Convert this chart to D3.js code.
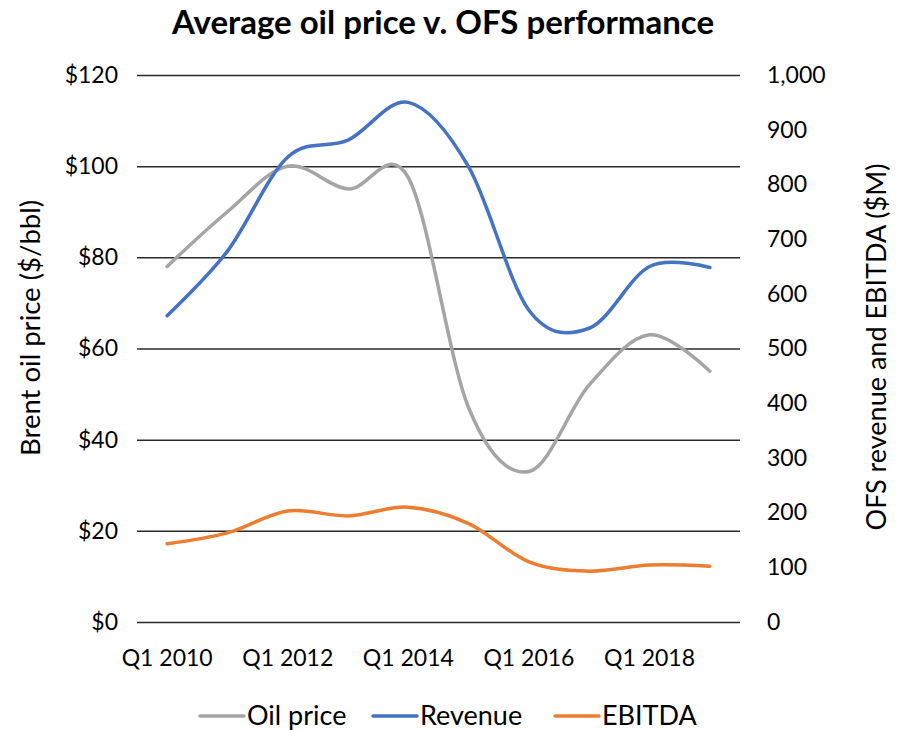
<!DOCTYPE html>
<html>
<head>
<meta charset="utf-8">
<script src="https://cdn.jsdelivr.net/npm/d3@7"></script>
<style>
  body { margin: 0; background: #fff; }
  text { font-family: Lato, "Open Sans", sans-serif; fill: #000; }
</style>
</head>
<body>
<div id="chart"></div>
<script>
let totalWidth = 897, totalHeight = 730;
let margin = { top: 75, right: 157, bottom: 108, left: 137 };

// data
const periods = ["Q1 2010", "Q1 2011", "Q1 2012", "Q1 2013", "Q1 2014", "Q1 2015", "Q1 2016", "Q1 2017", "Q1 2018", "Q1 2019"];
const xTickLabels = ["Q1 2010", "Q1 2012", "Q1 2014", "Q1 2016", "Q1 2018"];
const oilPrice = [78, 90, 100, 95, 97.5, 47, 33, 52, 63, 55];
const revenue = [560, 678, 850, 881, 950, 832, 570, 537, 650, 648];
const ebitda = [143, 163, 203, 194, 210, 180, 110, 93, 104, 102];
const leftTicks = [0, 20, 40, 60, 80, 100, 120];
const rightTicks = [0, 100, 200, 300, 400, 500, 600, 700, 800, 900, 1000];

const series = [
  { name: "Oil price", values: oilPrice, axis: "left", color: "#A5A5A5" },
  { name: "Revenue", values: revenue, axis: "right", color: "#4472C4" },
  { name: "EBITDA", values: ebitda, axis: "right", color: "#ED7D31" }
];

const svg = d3.select("#chart")
  .append("svg")
  .attr("width", totalWidth)
  .attr("height", totalHeight);

const x = d3.scaleBand()
  .domain(periods)
  .range([margin.left, totalWidth - margin.right]);

const yLeft = d3.scaleLinear()
  .domain([0, 120])
  .range([totalHeight - margin.bottom, margin.top]);

const yRight = d3.scaleLinear()
  .domain([0, 1000])
  .range([totalHeight - margin.bottom, margin.top]);

// gridlines + left labels
const leftAxis = svg.append("g")
  .attr("transform", `translate(${margin.left}, 0)`)
  .call(d3.axisLeft(yLeft)
    .tickValues(leftTicks)
    .tickSize(-(totalWidth - margin.left - margin.right))
    .tickPadding(19)
    .tickFormat(d => "$" + d));
leftAxis.select(".domain").remove();
leftAxis.selectAll("line").attr("stroke", "#2b2b2b").attr("stroke-width", 1.5);
leftAxis.selectAll("text").attr("font-size", "23px").attr("fill", "#000");

const rightAxis = svg.append("g")
  .attr("transform", `translate(${totalWidth - margin.right}, 0)`)
  .call(d3.axisRight(yRight)
    .tickValues(rightTicks)
    .tickSize(0)
    .tickPadding(27)
    .tickFormat(d3.format(",")));
rightAxis.select(".domain").remove();
rightAxis.selectAll("text").attr("font-size", "23px").attr("fill", "#000");

const bottomAxis = svg.append("g")
  .attr("transform", `translate(0, ${totalHeight - margin.bottom})`)
  .call(d3.axisBottom(x)
    .tickValues(xTickLabels)
    .tickSize(0)
    .tickPadding(28));
bottomAxis.select(".domain").remove();
bottomAxis.selectAll("text").attr("font-size", "23px").attr("fill", "#000");

// lines
const line = (scale) => d3.line()
  .x((d, i) => x(periods[i]) + x.bandwidth() / 2)
  .y(d => scale(d))
  .curve(d3.curveCardinal.tension(0));

series.forEach(s => {
  svg.append("path")
    .datum(s.values)
    .attr("fill", "none")
    .attr("stroke", s.color)
    .attr("stroke-width", 3.5)
    .attr("stroke-linecap", "round")
    .attr("d", line(s.axis == "left" ? yLeft : yRight)(s.values));
});

// titles
svg.append("text")
  .attr("x", 443)
  .attr("y", 34)
  .attr("text-anchor", "middle")
  .attr("font-size", "33px")
  .attr("font-weight", "bold")
  .text("Average oil price v. OFS performance");

svg.append("text")
  .attr("transform", "translate(40, 328) rotate(-90)")
  .attr("text-anchor", "middle")
  .attr("font-size", "27.5px")
  .text("Brent oil price ($/bbl)");

svg.append("text")
  .attr("transform", "translate(886, 347) rotate(-90)")
  .attr("text-anchor", "middle")
  .attr("font-size", "27px")
  .text("OFS revenue and EBITDA ($M)");

// legend
const legendX = [200, 373, 555];
const legend = svg.append("g").attr("transform", "translate(0, 716)");
series.forEach((s, i) => {
  legend.append("line")
    .attr("x1", legendX[i]).attr("x2", legendX[i] + 44)
    .attr("y1", 0).attr("y2", 0)
    .attr("stroke", s.color)
    .attr("stroke-width", 3.5)
    .attr("stroke-linecap", "round");
  legend.append("text")
    .attr("x", legendX[i] + 47)
    .attr("y", 9)
    .attr("font-size", "27px")
    .text(s.name);
});
</script>
</body>
</html>
